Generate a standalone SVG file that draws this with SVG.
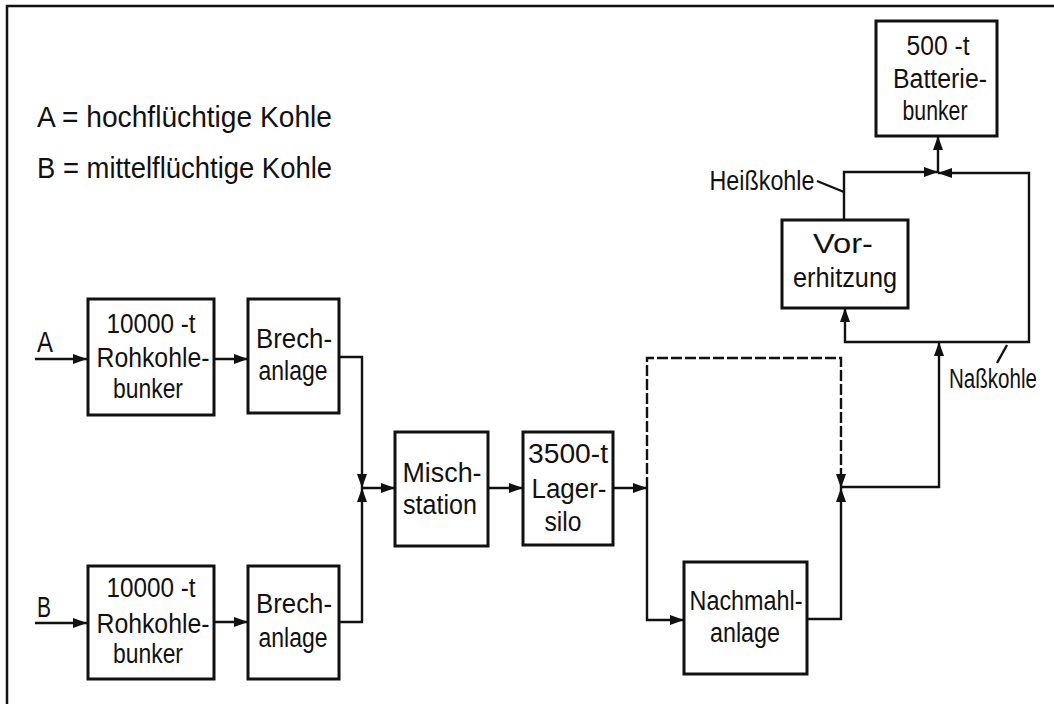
<svg xmlns="http://www.w3.org/2000/svg" width="1054" height="704" viewBox="0 0 1054 704">
<style>
.box{fill:#fff;stroke:#111;stroke-width:3}
.t{font-family:"Liberation Sans",Arial,sans-serif;font-size:27px;fill:#111;text-anchor:middle}
.lg{font-family:"Liberation Sans",Arial,sans-serif;font-size:30px;fill:#111}
.c{fill:none;stroke:#111;stroke-width:2.4}
.d{stroke-dasharray:11,3}
</style>
<defs>
<marker id="ah" markerUnits="userSpaceOnUse" markerWidth="15" markerHeight="10" refX="14" refY="5" orient="auto">
<path d="M0,0 L14,5 L0,10 z" fill="#111"/>
</marker>
</defs>
<rect width="1054" height="704" fill="#fff"/>
<path d="M7,704 V6 H1054" fill="none" stroke="#111" stroke-width="2.5"/>
<g id="legend">
<text class="lg" x="37" y="127" textLength="295" lengthAdjust="spacingAndGlyphs">A = hochflüchtige Kohle</text>
<text class="lg" x="37" y="178" textLength="295" lengthAdjust="spacingAndGlyphs">B = mittelflüchtige Kohle</text>
</g>
<g id="connectors">
<path class="c" d="M35,359 H87" marker-end="url(#ah)"/>
<path class="c" d="M214,359 H248" marker-end="url(#ah)"/>
<path class="c" d="M339,357 H362 V488" marker-end="url(#ah)"/>
<path class="c" d="M35,623 H87" marker-end="url(#ah)"/>
<path class="c" d="M214,622 H248" marker-end="url(#ah)"/>
<path class="c" d="M339,622 H362 V488" marker-end="url(#ah)"/>
<path class="c" d="M362,488 H395" marker-end="url(#ah)"/>
<path class="c" d="M488,488 H523" marker-end="url(#ah)"/>
<path class="c" d="M613,488 H647" marker-end="url(#ah)"/>
<path class="c" d="M647,488 V620 H684" marker-end="url(#ah)"/>
<path class="c d" d="M647,488 V358 H841 V488" marker-end="url(#ah)"/>
<path class="c" d="M807,619 H841 V488" marker-end="url(#ah)"/>
<path class="c" d="M841,487 H939 V342" marker-end="url(#ah)"/>
<path class="c" d="M939,342 H845 V308" marker-end="url(#ah)"/>
<path class="c" d="M939,342 H1029 V173 H938" marker-end="url(#ah)"/>
<path class="c" d="M844,220 V172 H938" marker-end="url(#ah)"/>
<path class="c" d="M938,172 V136" marker-end="url(#ah)"/>
<path class="c" d="M817,181 L844,192"/>
<path class="c" d="M1007,345 L997,363"/>
</g>
<g id="labelA"><text class="lg" x="37" y="352" font-size="32" textLength="16" lengthAdjust="spacingAndGlyphs">A</text></g>
<g id="labelB"><text class="lg" x="37" y="617" font-size="32" textLength="14" lengthAdjust="spacingAndGlyphs">B</text></g>
<g id="bunkerA">
<rect class="box" x="88" y="299" width="126" height="116"/>
<text class="t" x="151" y="333" textLength="89" lengthAdjust="spacingAndGlyphs">10000 -t</text>
<text class="t" x="153" y="367" textLength="113" lengthAdjust="spacingAndGlyphs">Rohkohle-</text>
<text class="t" x="148" y="398" textLength="70" lengthAdjust="spacingAndGlyphs">bunker</text>
</g>
<g id="brechA">
<rect class="box" x="248" y="299" width="91" height="114"/>
<text class="t" x="294" y="348" textLength="76" lengthAdjust="spacingAndGlyphs">Brech-</text>
<text class="t" x="293" y="380" textLength="69" lengthAdjust="spacingAndGlyphs">anlage</text>
</g>
<g id="bunkerB">
<rect class="box" x="88" y="566" width="126" height="113"/>
<text class="t" x="151" y="597" textLength="89" lengthAdjust="spacingAndGlyphs">10000 -t</text>
<text class="t" x="153" y="633" textLength="113" lengthAdjust="spacingAndGlyphs">Rohkohle-</text>
<text class="t" x="148" y="663" textLength="70" lengthAdjust="spacingAndGlyphs">bunker</text>
</g>
<g id="brechB">
<rect class="box" x="248" y="566" width="91" height="113"/>
<text class="t" x="294" y="613" textLength="76" lengthAdjust="spacingAndGlyphs">Brech-</text>
<text class="t" x="293" y="647" textLength="69" lengthAdjust="spacingAndGlyphs">anlage</text>
</g>
<g id="misch">
<rect class="box" x="395" y="432" width="93" height="114"/>
<text class="t" x="442" y="482" textLength="79" lengthAdjust="spacingAndGlyphs">Misch-</text>
<text class="t" x="440" y="514" textLength="74" lengthAdjust="spacingAndGlyphs">station</text>
</g>
<g id="lager">
<rect class="box" x="523" y="432" width="90" height="113"/>
<text class="t" x="568" y="463" textLength="80" lengthAdjust="spacingAndGlyphs">3500-t</text>
<text class="t" x="569" y="498" textLength="75" lengthAdjust="spacingAndGlyphs">Lager-</text>
<text class="t" x="563" y="531" textLength="37" lengthAdjust="spacingAndGlyphs">silo</text>
</g>
<g id="nachmahl">
<rect class="box" x="684" y="562" width="123" height="112"/>
<text class="t" x="746" y="610" textLength="113" lengthAdjust="spacingAndGlyphs">Nachmahl-</text>
<text class="t" x="745" y="642" textLength="70" lengthAdjust="spacingAndGlyphs">anlage</text>
</g>
<g id="vorerhitzung">
<rect class="box" x="782" y="220" width="126" height="88"/>
<text class="t" x="843" y="253" textLength="60" lengthAdjust="spacingAndGlyphs">Vor-</text>
<text class="t" x="845" y="287" textLength="104" lengthAdjust="spacingAndGlyphs">erhitzung</text>
</g>
<g id="batteriebunker">
<rect class="box" x="876" y="21" width="121" height="115"/>
<text class="t" x="938" y="55" textLength="63" lengthAdjust="spacingAndGlyphs">500 -t</text>
<text class="t" x="940" y="88" textLength="94" lengthAdjust="spacingAndGlyphs">Batterie-</text>
<text class="t" x="935" y="120" textLength="65" lengthAdjust="spacingAndGlyphs">bunker</text>
</g>
<g id="labels">
<text class="t" x="762" y="190" textLength="105" lengthAdjust="spacingAndGlyphs">Heißkohle</text>
<text class="t" x="993" y="388" textLength="88" lengthAdjust="spacingAndGlyphs">Naßkohle</text>
</g>
</svg>
